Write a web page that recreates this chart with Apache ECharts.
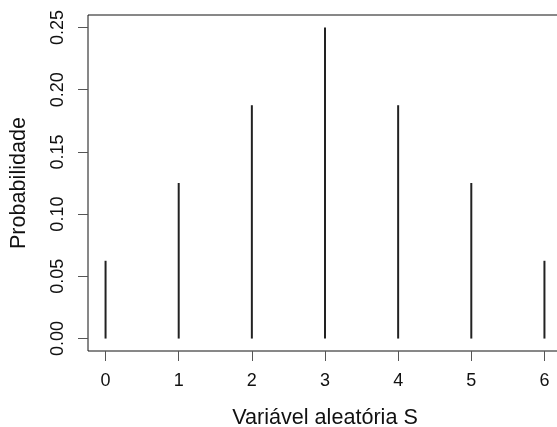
<!DOCTYPE html>
<html>
<head>
<meta charset="utf-8">
<script src="https://cdn.jsdelivr.net/npm/echarts@6/dist/echarts.min.js"></script>
<style>
  html, body { margin: 0; padding: 0; background: #fff; }
  #chart { width: 557px; height: 427px; }
</style>
</head>
<body>
<div id="chart"></div>
<script>
// valores da variável aleatória S e probabilidades
const sValues = [0, 1, 2, 3, 4, 5, 6];
const probs = [0.0625, 0.125, 0.1875, 0.25, 0.1875, 0.125, 0.0625];
const yTicks = [0, 0.05, 0.1, 0.15, 0.2, 0.25];

const chart = echarts.init(document.getElementById('chart'));

const font = 'Liberation Sans, Arial, sans-serif';

const option = {
    animation: false,
    backgroundColor: '#fff',
    grid: {
        left: 88,
        top: 15,
        width: 474,
        height: 336,
        outerBoundsMode: 'none',
        containLabel: false,
        show: true,
        borderColor: '#111',
        borderWidth: 1
    },
    xAxis: {
        type: 'value',
        min: -0.24,
        max: 6.24,
        name: 'Variável aleatória S',
        nameLocation: 'middle',
        nameGap: 56,
        nameTextStyle: { fontFamily: font, fontSize: 21.6, color: '#111' },
        axisLine: { show: false, onZero: false },
        splitLine: { show: false },
        axisTick: {
            show: true,
            inside: false,
            length: 10,
            customValues: sValues,
            lineStyle: { color: '#555' }
        },
        axisLabel: {
            customValues: sValues,
            margin: 21,
            fontFamily: font,
            fontSize: 18,
            color: '#111'
        }
    },
    yAxis: {
        type: 'value',
        min: -0.01,
        max: 0.26,
        name: 'Probabilidade',
        nameLocation: 'middle',
        nameGap: 58,
        nameTextStyle: { fontFamily: font, fontSize: 21.6, color: '#111' },
        axisLine: { show: false, onZero: false },
        splitLine: { show: false },
        axisTick: {
            show: true,
            inside: false,
            length: 10,
            customValues: yTicks,
            lineStyle: { color: '#555' }
        },
        axisLabel: {
            customValues: yTicks,
            rotate: 90,
            margin: 21,
            fontFamily: font,
            fontSize: 18,
            color: '#111',
            formatter: v => v.toFixed(2)
        }
    },
    series: [{
        type: 'bar',
        barWidth: 2,
        itemStyle: { color: '#222' },
        data: sValues.map((s, i) => [s, probs[i]])
    }]
};

chart.setOption(option);
</script>
</body>
</html>
